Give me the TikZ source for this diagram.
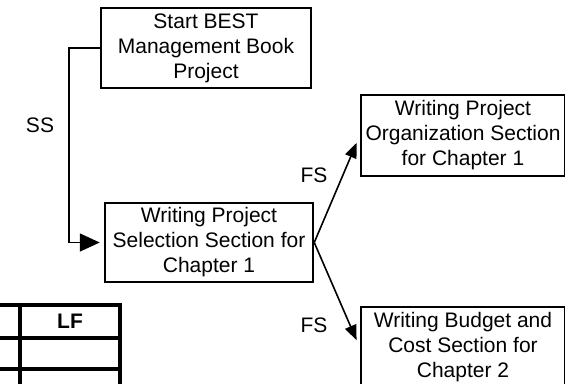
\documentclass[tikz,border=0pt]{standalone}
\usepackage{fontspec}
\setmainfont{Liberation Sans}
\usetikzlibrary{arrows.meta}

\begin{document}
\begin{tikzpicture}[x=1pt,y=-1pt,
                task/.style={draw,line width=2.5pt,align=center,inner sep=2pt,
                  font=\fontsize{21}{25}\selectfont},
                link/.style={line width=1.6pt},
                lag/.style={font=\fontsize{21}{25}\selectfont},
                tableline/.style={line width=3.2pt}]

	\clip (0,0) rectangle (565,383);

	\node[task,minimum width=210pt,minimum height=80pt] (start) at (206,48)
		{Start BEST\\Management Book\\Project};
	\node[task,minimum width=208pt,minimum height=79pt] (select) at (209,242.5)
		{Writing Project\\Selection Section for\\Chapter 1};
	\node[task,minimum width=204pt,minimum height=81pt] (organize) at (463,135.5)
		{Writing Project\\Organization Section\\for Chapter 1};
	\node[task,minimum width=204pt,minimum height=81pt] (budget) at (463,347.5)
		{Writing Budget and\\Cost Section for\\Chapter 2};

	\node[lag] (ss) at (40,125) {SS};
	\node[lag] (fs1) at (314,175) {FS};
	\node[lag] (fs2) at (314,325) {FS};

	\draw[link,-{Triangle[length=20pt,width=18pt]},shorten >=4pt]
		(start.west) -- ++(-31,0) |- (select.west);
	\draw[link,-{Triangle[length=15pt,width=12pt]},shorten >=8pt]
		(select.east) -- (organize.west);
	\draw[link,-{Triangle[length=15pt,width=12pt]},shorten >=8pt]
		(select.east) -- (budget.west);

	% table in the corner
	\foreach \y in {305,338,369}
		\draw[tableline] (0,\y) -- (121.6,\y);
	\foreach \x in {20,120}
		\draw[tableline] (\x,305) -- (\x,390);
	\node[font=\fontsize{21}{25}\selectfont\bfseries] (lf) at (70,321) {LF};
\end{tikzpicture}
\end{document}
